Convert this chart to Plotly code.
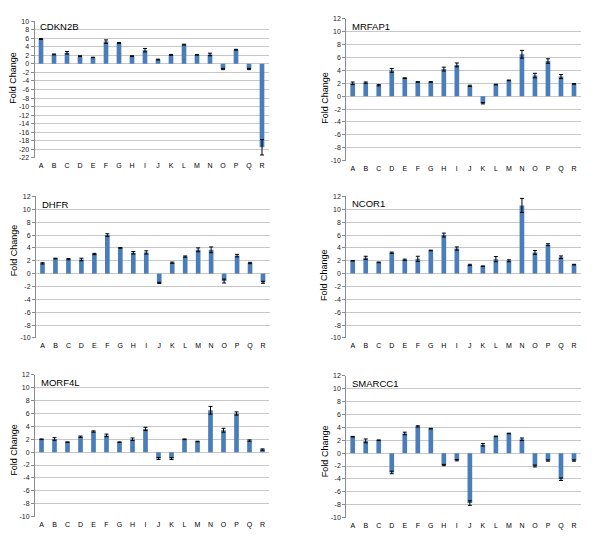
import plotly.graph_objects as go

categories = list("ABCDEFGHIJKLMNOPQR")

cdkn2b = [5.8, 2.2, 2.6, 1.8, 1.5, 5.2, 4.9, 1.8, 3.2, 1.0, 2.1, 4.5, 2.1, 2.2, -1.2, 3.3, -1.2, -19.5]
cdkn2b_err = [0.1, 0.1, 0.3, 0.1, 0.05, 0.4, 0.1, 0.1, 0.4, 0.1, 0.1, 0.1, 0.05, 0.3, 0.15, 0.1, 0.15, 1.8]

mrfap1 = [2.0, 2.1, 1.7, 4.0, 2.8, 2.2, 2.2, 4.2, 4.85, 1.6, -1.1, 1.8, 2.45, 6.5, 3.2, 5.45, 3.05, 1.9]
mrfap1_err = [0.2, 0.1, 0.1, 0.3, 0.05, 0.05, 0.05, 0.3, 0.3, 0.1, 0.1, 0.05, 0.05, 0.6, 0.35, 0.35, 0.3, 0.05]

dhfr = [1.6, 2.35, 2.25, 2.2, 3.05, 6.0, 4.0, 3.25, 3.3, -1.45, 1.7, 2.65, 3.7, 3.7, -1.15, 2.8, 1.65, -1.35]
dhfr_err = [0.1, 0.05, 0.1, 0.2, 0.1, 0.2, 0.05, 0.2, 0.25, 0.1, 0.1, 0.1, 0.3, 0.45, 0.3, 0.2, 0.1, 0.15]

ncor1 = [2.0, 2.45, 1.75, 3.25, 2.15, 2.3, 3.6, 6.0, 3.9, 1.35, 1.15, 2.25, 2.0, 10.6, 3.3, 4.5, 2.55, 1.4]
ncor1_err = [0.05, 0.25, 0.05, 0.1, 0.1, 0.4, 0.05, 0.3, 0.25, 0.1, 0.05, 0.4, 0.15, 1.1, 0.3, 0.15, 0.2, 0.05]

morf4l = [2.0, 2.05, 1.55, 2.4, 3.2, 2.6, 1.55, 2.0, 3.6, -1.0, -1.0, 2.0, 1.65, 6.5, 3.4, 6.0, 1.8, 0.4]
morf4l_err = [0.05, 0.2, 0.05, 0.1, 0.1, 0.2, 0.05, 0.2, 0.25, 0.15, 0.15, 0.05, 0.05, 0.6, 0.3, 0.25, 0.1, 0.1]

smarcc1 = [2.55, 1.9, 2.0, -3.0, 3.05, 4.15, 3.8, -1.85, -1.1, -7.75, 1.3, 2.6, 3.05, 2.15, -2.0, -1.15, -4.05, -1.15]
smarcc1_err = [0.05, 0.3, 0.05, 0.2, 0.2, 0.1, 0.05, 0.1, 0.1, 0.35, 0.2, 0.05, 0.05, 0.2, 0.15, 0.1, 0.2, 0.1]

titles = ["CDKN2B", "MRFAP1", "DHFR", "NCOR1", "MORF4L", "SMARCC1"]
series = [cdkn2b, mrfap1, dhfr, ncor1, morf4l, smarcc1]
errors = [cdkn2b_err, mrfap1_err, dhfr_err, ncor1_err, morf4l_err, smarcc1_err]

tick_sets = [list(range(-22, 11, 2))] + [list(range(-10, 13, 2))] * 5
y_ranges = [[-22, 10]] + [[-10, 12]] * 5

W, H = 600, 540
# pixel boxes (left, right, top, bottom)
boxes = [
    (34.5, 268.5, 17.3, 156.0),
    (346.2, 580.5, 15.0, 158.7),
    (36.0, 269.5, 195.0, 338.3),
    (346.2, 580.5, 195.0, 338.3),
    (35.0, 269.0, 375.7, 519.3),
    (346.2, 580.5, 376.7, 520.3),
]
ytitle_pos = [(12.7, 75), (325, 95), (14, 249.5), (324, 274.5), (14, 451.7), (325, 453)]
title_pos = [(38, 23), (350, 22.7), (40, 203), (350, 202), (39, 383), (350, 384)]

font_family = "Liberation Sans, Arial, sans-serif"
bar_color = "#4A7EBB"
grid_color = "#C8C8C8"

fig = go.Figure()
annotations = []
for i in range(6):
    n = "" if i == 0 else str(i + 1)
    xa, ya = "x" + n, "y" + n
    fig.add_trace(go.Bar(
        x=categories, y=series[i],
        marker=dict(color=bar_color, line=dict(width=0)),
        error_y=dict(type="data", array=errors[i], visible=True, color="#000000", thickness=1, width=2),
        width=0.36, xaxis=xa, yaxis=ya, showlegend=False,
    ))
    l, r, t, b = boxes[i]
    tv = tick_sets[i]
    fig.layout["xaxis" + n] = dict(
        domain=[l / W, r / W], anchor=ya, range=[-0.5, 17.5],
        showgrid=False, showline=False, ticks="", zeroline=False,
        tickfont=dict(family=font_family, size=7, color="#000"), ticklabelstandoff=2,
        fixedrange=True,
    )
    fig.layout["yaxis" + n] = dict(
        domain=[1 - b / H, 1 - t / H], anchor=xa, range=y_ranges[i],
        tickvals=tv, ticktext=[str(v) for v in tv],
        showgrid=True, gridcolor=grid_color, gridwidth=1,
        zeroline=True, zerolinecolor=grid_color, zerolinewidth=1,
        showline=True, linecolor="#8C8C8C", linewidth=1,
        ticks="outside", ticklen=3, tickcolor="#8C8C8C",
        tickfont=dict(family=font_family, size=7, color="#222"),
        fixedrange=True,
    )
    tx, ty = title_pos[i]
    annotations.append(dict(
        text=titles[i], x=tx / W, y=1 - ty / H, xref="paper", yref="paper",
        xanchor="left", yanchor="middle", showarrow=False,
        font=dict(family=font_family, size=9.5, color="#000"),
    ))
    yx, yy = ytitle_pos[i]
    annotations.append(dict(
        text="Fold Change", x=yx / W, y=1 - yy / H, xref="paper", yref="paper",
        xanchor="center", yanchor="middle", showarrow=False, textangle=-90,
        font=dict(family=font_family, size=9, color="#000"),
    ))

fig.update_layout(
    width=W, height=H, margin=dict(l=0, r=0, t=0, b=0),
    paper_bgcolor="white", plot_bgcolor="white",
    annotations=annotations, bargap=0.64,
)
fig.write_html("out.html", config={"displayModeBar": False},
               post_script="document.body.style.margin='0';")
